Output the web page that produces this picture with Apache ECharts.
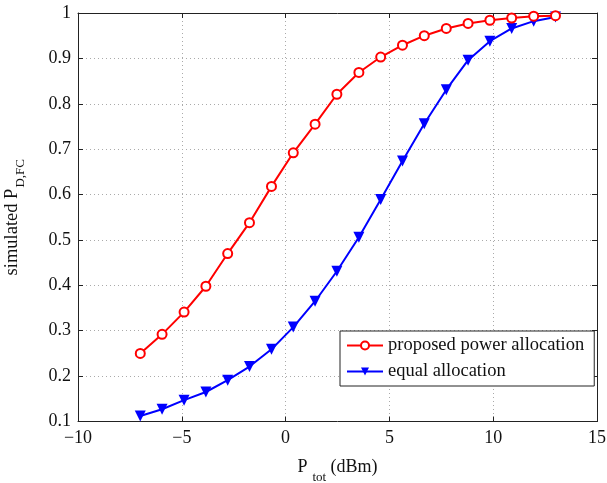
<!DOCTYPE html>
<html><head><meta charset="utf-8">
<script src="https://cdn.jsdelivr.net/npm/echarts@6/dist/echarts.min.js"></script>
<style>html,body{margin:0;padding:0;background:#fff}#c{width:607px;height:483px}</style>
</head><body><div id="c"></div>
<script>
const xValues = [-7, -5.95, -4.89, -3.84, -2.79, -1.74, -0.68, 0.37, 1.42, 2.47, 3.53, 4.58, 5.63, 6.68, 7.74, 8.79, 9.84, 10.89, 11.95, 13];
const proposed = [0.250, 0.292, 0.341, 0.398, 0.470, 0.538, 0.618, 0.692, 0.755, 0.821, 0.869, 0.903, 0.929, 0.950, 0.966, 0.977, 0.984, 0.989, 0.993, 0.994];
const equal = [0.112, 0.127, 0.147, 0.165, 0.191, 0.221, 0.259, 0.308, 0.365, 0.431, 0.506, 0.589, 0.674, 0.756, 0.831, 0.896, 0.938, 0.966, 0.982, 0.991];
const seriesNames = ['proposed power allocation', 'equal allocation'];

const font = 'Liberation Serif';
const chart = echarts.init(document.getElementById('c'));
const boxAxis = {
  axisLine: {show: true, onZero: false, lineStyle: {color: '#222', width: 1}},
  axisTick: {show: true, inside: true, length: 5, lineStyle: {color: '#222'}},
  axisLabel: {show: false},
  splitLine: {show: false}
};
chart.setOption({
  animation: false,
  backgroundColor: '#fff',
  textStyle: {fontFamily: font},
  grid: {left: 78, right: 10, top: 13, bottom: 61.5, containLabel: false, outerBoundsMode: 'none'},
  legend: {
    left: 340, top: 331, orient: 'vertical',
    backgroundColor: '#fff', borderColor: '#222', borderWidth: 1,
    padding: [5, 10, 5, 6], itemGap: 7, itemWidth: 36, itemHeight: 10,
    textStyle: {fontFamily: font, fontSize: 18.5, color: '#111'},
    data: seriesNames
  },
  xAxis: [{
    type: 'value', min: -10, max: 15, interval: 5, position: 'bottom',
    name: '{p|P}{s|tot}{p| (dBm)}', nameLocation: 'middle', nameGap: 29,
    nameTextStyle: {rich: {p: {fontFamily: font, fontSize: 18, color: '#111'}, s: {fontFamily: font, fontSize: 13, color: '#111', padding: [21, 0, 0, 5]}}},
    axisLine: {show: true, onZero: false, lineStyle: {color: '#222'}},
    axisTick: {show: true, inside: true, length: 5, lineStyle: {color: '#222'}},
    axisLabel: {fontFamily: font, fontSize: 18, color: '#111', margin: 8, formatter: v => String(v).replace('-', '\u2212')},
    splitLine: {show: true, lineStyle: {color: '#aaa', type: [1, 3]}}
  }, Object.assign({type: 'value', min: -10, max: 15, interval: 5, position: 'top'}, boxAxis)],
  yAxis: [{
    type: 'value', min: 0.1, max: 1, interval: 0.1, position: 'left',
    name: '{p|simulated P}{s|D,FC}', nameLocation: 'middle', nameGap: 51,
    nameTextStyle: {rich: {p: {fontFamily: font, fontSize: 18.5, color: '#111'}, s: {fontFamily: font, fontSize: 13, color: '#111', padding: [16, 0, 0, 1]}}},
    axisLine: {show: true, onZero: false, lineStyle: {color: '#222'}},
    axisTick: {show: true, inside: true, length: 5, lineStyle: {color: '#222'}},
    axisLabel: {fontFamily: font, fontSize: 18, color: '#111', margin: 7, formatter: v => Math.abs(v - 1) < 1e-9 ? '1' : (+v).toFixed(1)},
    splitLine: {show: true, lineStyle: {color: '#aaa', type: [1, 3]}}
  }, Object.assign({type: 'value', min: 0.1, max: 1, interval: 0.1, position: 'right'}, boxAxis)],
  series: [{
    name: seriesNames[0], type: 'line', xAxisIndex: 0, yAxisIndex: 0,
    data: xValues.map((x, i) => [x, proposed[i]]),
    symbol: 'emptyCircle', symbolSize: 9,
    lineStyle: {color: '#ff0000', width: 2}, itemStyle: {color: '#ff0000', borderWidth: 1.6},
    z: 3
  }, {
    name: seriesNames[1], type: 'line', xAxisIndex: 0, yAxisIndex: 0,
    data: xValues.map((x, i) => [x, equal[i]]),
    symbol: 'triangle', symbolRotate: 180, symbolSize: 11,
    lineStyle: {color: '#0000ff', width: 2}, itemStyle: {color: '#0000ff'},
    z: 2
  }]
});
</script></body></html>
